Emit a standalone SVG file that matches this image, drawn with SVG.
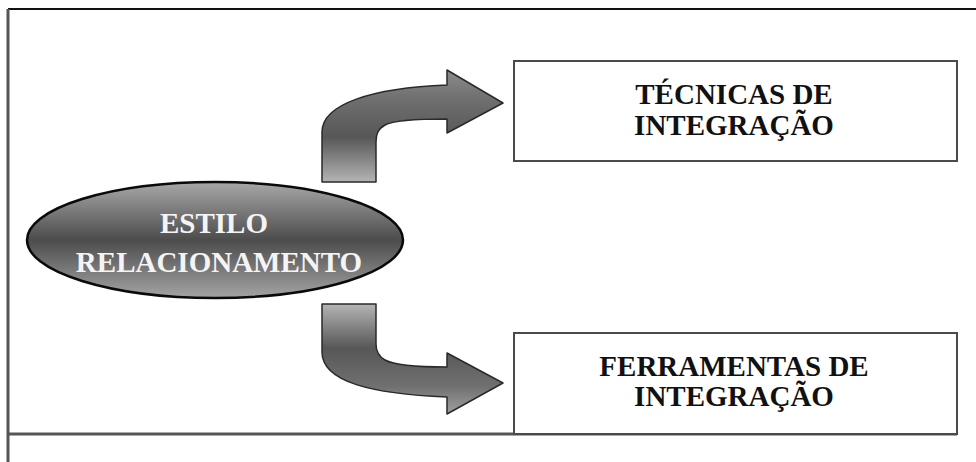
<svg xmlns="http://www.w3.org/2000/svg" width="976" height="462" viewBox="0 0 976 462">
  <style>
    .box { fill: #ffffff; stroke: #4a4a4a; stroke-width: 2; }
    .lbl { font-family: "Liberation Serif", "Times New Roman", serif; font-weight: bold; font-size: 29px; text-anchor: middle; }
    .dark { fill: #111111; }
    .light { fill: #f4f4f4; }
    .arrow { stroke: #2a2a2a; stroke-width: 1.5; stroke-linejoin: round; }
    .frame { stroke: #555555; stroke-width: 3; fill: none; }
  </style>
  <defs>
    <linearGradient id="gEll" x1="0" y1="0" x2="0" y2="1">
      <stop offset="0" stop-color="#a8a8a8"/>
      <stop offset="0.5" stop-color="#4c4c4c"/>
      <stop offset="1" stop-color="#a4a4a4"/>
    </linearGradient>
    <linearGradient id="gUp" gradientUnits="userSpaceOnUse" x1="0" y1="70" x2="0" y2="182">
      <stop offset="0" stop-color="#8c8c8c"/>
      <stop offset="0.25" stop-color="#707070"/>
      <stop offset="0.6" stop-color="#575757"/>
      <stop offset="1" stop-color="#b4b4b4"/>
    </linearGradient>
    <linearGradient id="gDown" gradientUnits="userSpaceOnUse" x1="0" y1="304" x2="0" y2="414">
      <stop offset="0" stop-color="#b4b4b4"/>
      <stop offset="0.4" stop-color="#575757"/>
      <stop offset="0.75" stop-color="#707070"/>
      <stop offset="1" stop-color="#a0a0a0"/>
    </linearGradient>
  </defs>
  <rect x="0" y="0" width="976" height="462" fill="#ffffff"/>
  <g id="frame">
    <line x1="8" y1="9" x2="976" y2="9" stroke="#111111" stroke-width="2"/>
    <line class="frame" x1="8" y1="9" x2="8" y2="462"/>
    <line class="frame" x1="8" y1="434" x2="957" y2="434"/>
  </g>
  <g id="connectors">
    <path class="arrow" fill="url(#gUp)" d="M322,182 L322,132 C322,104 372,88 447,85 L447,70 L503,103 L447,133 L447,119 C410,119 392,121 385,125 C378,129 376,134 376,142 L376,182 Z"/>
    <path class="arrow" fill="url(#gDown)" d="M322,304 L322,352 C322,382 372,394 447,397 L447,414 L503,383 L447,353 L447,367 C410,367 392,364 385,360 C378,356 376,351 376,344 L376,304 Z"/>
  </g>
  <g id="estilo">
    <ellipse cx="215" cy="240" rx="188" ry="58" fill="url(#gEll)" stroke="#0a0a0a" stroke-width="2.5"/>
    <text class="lbl light" x="214" y="233">ESTILO</text>
    <text class="lbl light" x="219" y="272">RELACIONAMENTO</text>
  </g>
  <g id="tecnicas">
    <rect class="box" x="514" y="61" width="443" height="100"/>
    <text class="lbl dark" x="734" y="104">TÉCNICAS DE</text>
    <text class="lbl dark" x="734" y="135">INTEGRAÇÃO</text>
  </g>
  <g id="ferramentas">
    <rect class="box" x="514" y="333" width="443" height="101"/>
    <text class="lbl dark" x="734" y="376">FERRAMENTAS DE</text>
    <text class="lbl dark" x="734" y="406">INTEGRAÇÃO</text>
  </g>
</svg>
